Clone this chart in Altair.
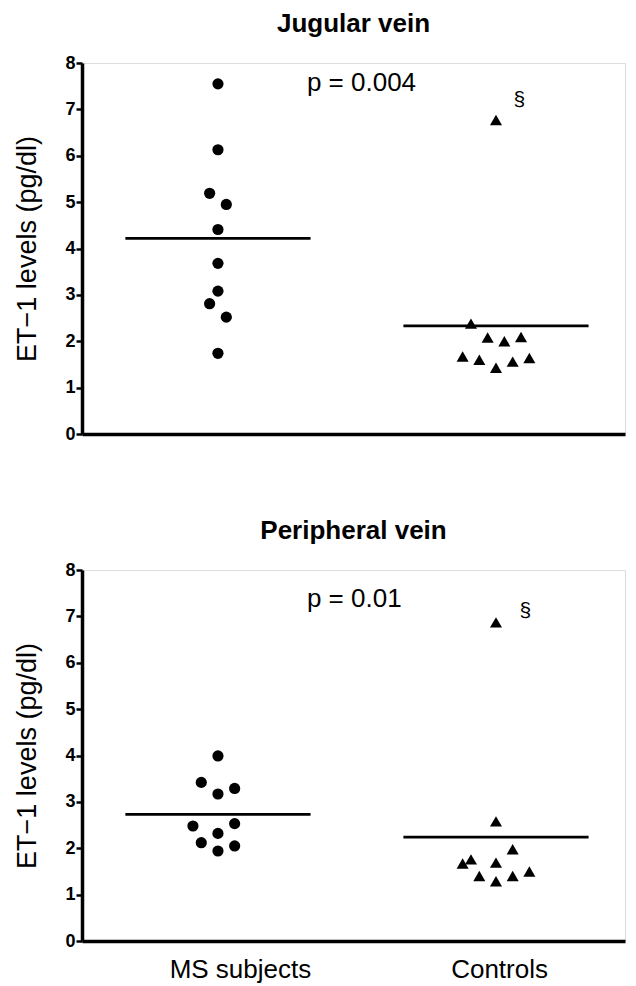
import altair as alt
import pandas as pd

FONT = "Liberation Sans"

groups = ["MS subjects", "Controls"]
panel_titles = ["Jugular vein", "Peripheral vein"]
p_texts = ["p = 0.004", "p = 0.01"]

jug_ms = [7.55, 6.13, 5.19, 4.95, 4.41, 3.68, 3.08, 2.81, 2.52, 1.74]
jug_ms_slot = [0, 0, -1, 1, 0, 0, 0, -1, 1, 0]
jug_ct = [6.77, 2.38, 2.08, 2.00, 2.09, 1.67, 1.60, 1.43, 1.56, 1.64]
jug_ct_slot = [0, -3, -1, 1, 3, -4, -2, 0, 2, 4]

per_ms = [3.99, 3.42, 3.29, 3.17, 2.48, 2.53, 2.32, 2.12, 2.05, 1.94]
per_ms_slot = [0, -2, 2, 0, -3, 2, 0, -2, 2, 0]
per_ct = [6.87, 2.58, 1.98, 1.67, 1.76, 1.69, 1.40, 1.29, 1.40, 1.50]
per_ct_slot = [0, 0, 2, -4, -3, 0, -2, 0, 2, 4]

means_jug = [4.22, 2.33]
means_per = [2.73, 2.24]

label_pos = [1.079, 2.011]
p_pos = [(1.32, 7.57), (1.32, 7.38)]
mark_pos = [(2.084, 7.2), (2.106, 7.12)]


def points_df(ms, ms_slot, ct, ct_slot):
    rows = []
    for v, s in zip(ms, ms_slot):
        rows.append({"group": groups[0], "gi": 1, "value": v, "slot": s})
    for v, s in zip(ct, ct_slot):
        rows.append({"group": groups[1], "gi": 2, "value": v, "slot": s})
    return pd.DataFrame(rows)


def panel(idx, ms, ms_slot, ct, ct_slot, means, show_labels):
    pts = points_df(ms, ms_slot, ct, ct_slot)
    mdf = pd.DataFrame({"group": groups, "gi": [1, 2], "mean": means})
    tdf = pd.DataFrame({"x": [p_pos[idx][0]], "y": [p_pos[idx][1]], "t": [p_texts[idx]]})
    sdf = pd.DataFrame({"x": [mark_pos[idx][0]], "y": [mark_pos[idx][1]], "t": ["§"]})

    xscale = alt.Scale(domain=[0.511, 2.464], nice=False, zero=False)
    yscale = alt.Scale(domain=[0, 8], nice=False)
    xaxis = alt.Axis(
        title=None, values=label_pos, ticks=False, grid=False,
        labels=show_labels,
        labelExpr=f"datum.value < 1.5 ? '{groups[0]}' : '{groups[1]}'",
        labelFont=FONT, labelFontSize=26, labelColor="black", labelPadding=15,
        domainColor="black", domainWidth=3.5,
    )
    yaxis = alt.Axis(
        title="ET\u22121 levels (pg/dl)", values=list(range(9)), grid=False,
        labelFont=FONT, labelFontSize=18, labelFontWeight="bold", labelColor="black",
        labelPadding=1, tickSize=6, tickWidth=2.5, tickColor="black",
        domainColor="black", domainWidth=3.5,
        titleFont=FONT, titleFontSize=27, titleFontWeight="normal", titleColor="black",
        titleX=-55, titleBaseline="middle",
    )

    pts_layer = alt.Chart(pts).transform_calculate(
        xp="datum.gi + datum.slot * 0.030"
    ).mark_point(filled=True, opacity=1, color="black").encode(
        x=alt.X("xp:Q", scale=xscale, axis=xaxis),
        y=alt.Y("value:Q", scale=yscale, axis=yaxis),
        shape=alt.Shape("group:N", scale=alt.Scale(domain=groups, range=["circle", "triangle-up"]), legend=None),
        size=alt.Size("group:N", scale=alt.Scale(domain=groups, range=[125, 145]), legend=None),
    )
    mean_layer = alt.Chart(mdf).transform_calculate(
        x1="datum.gi - 0.333", x2="datum.gi + 0.333"
    ).mark_rule(color="black", strokeWidth=2.8).encode(
        x="x1:Q", x2="x2:Q", y="mean:Q"
    )
    p_layer = alt.Chart(tdf).mark_text(
        font=FONT, fontSize=26, align="left", baseline="middle", color="black"
    ).encode(x="x:Q", y="y:Q", text="t:N")
    s_layer = alt.Chart(sdf).mark_text(
        font=FONT, fontSize=21, align="center", baseline="middle", color="black"
    ).encode(x="x:Q", y="y:Q", text="t:N")

    return alt.layer(mean_layer, pts_layer, p_layer, s_layer).properties(
        width=543, height=371,
        title=alt.TitleParams(panel_titles[idx], font=FONT, fontSize=26, fontWeight="bold",
                              color="black", anchor="middle", frame="group", offset=17),
    )


top = panel(0, jug_ms, jug_ms_slot, jug_ct, jug_ct_slot, means_jug, False)
bottom = panel(1, per_ms, per_ms_slot, per_ct, per_ct_slot, means_per, True)

chart = alt.vconcat(top, bottom, spacing=73).properties(
    padding={"left": 4, "top": 2, "right": 0, "bottom": 0}
).configure_view(strokeOpacity=0, strokeWidth=0).configure(background="white")

chart.save("out.html", embed_options={"renderer": "svg", "actions": False})
